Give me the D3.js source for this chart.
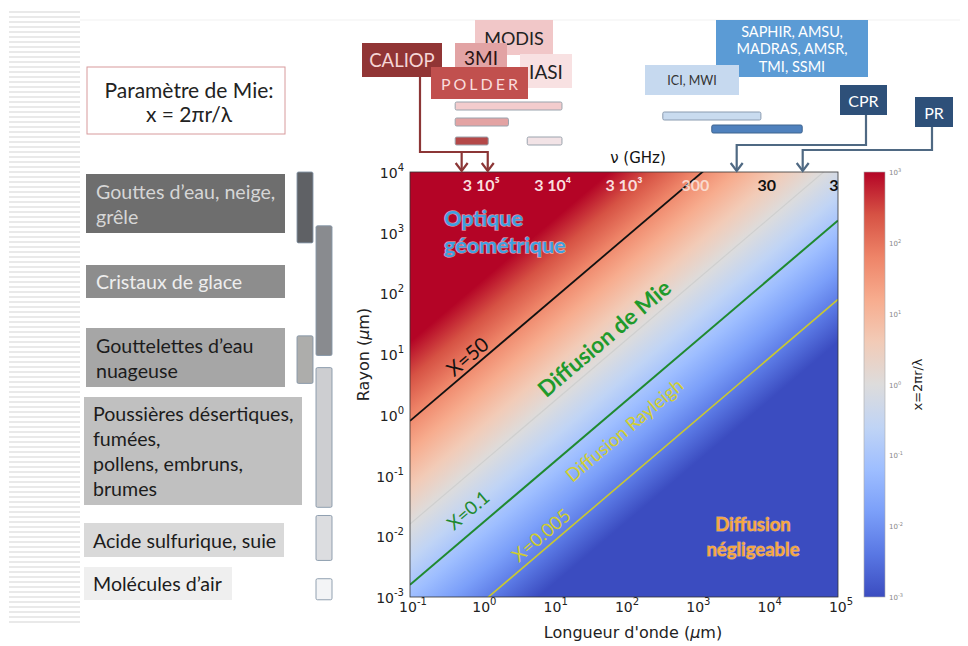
<!DOCTYPE html>
<html>
<head>
<meta charset="utf-8">
<script src="https://cdn.jsdelivr.net/npm/d3@7"></script>
<style>
  html, body { margin: 0; padding: 0; background: #fff; }
  svg { display: block; }
  .mpl { font-family: "DejaVu Sans", sans-serif; }
  .cal { font-family: Lato, "Open Sans", sans-serif; }
</style>
</head>
<body>
<script>
// ---- Axis ticks ----------------------------------------------------------
const wavelengthTicks = [1e-1, 1e0, 1e1, 1e2, 1e3, 1e4, 1e5];
const wavelengthExp = ["-1", "0", "1", "2", "3", "4", "5"];
const radiusTicks = [1e-3, 1e-2, 1e-1, 1e0, 1e1, 1e2, 1e3, 1e4];
const radiusExp = ["-3", "-2", "-1", "0", "1", "2", "3", "4"];
const colorbarTicks = [1e-3, 1e-2, 1e-1, 1e0, 1e1, 1e2, 1e3];
const colorbarExp = ["-3", "-2", "-1", "0", "1", "2", "3"];

// Frequency labels along the top (nu = c / lambda), placed at these wavelengths
const nuWavelengths = [1, 10, 100, 1000, 1e4, 1e5];
const nuLabels = ["3 10⁵", "3 10⁴", "3 10³", "300", "30", "3"];

// Iso-lines of the size parameter x = 2*pi*r/lambda
const mieValues = [50, 1, 0.1, 0.005];

// Particle families: radius ranges in micrometres
const particleNames = [
  ["Gouttes d’eau, neige,", "grêle"],
  ["Cristaux de glace"],
  ["Gouttelettes d’eau", "nuageuse"],
  ["Poussières désertiques,", "fumées,", "pollens, embruns,", "brumes"],
  ["Acide sulfurique, suie"],
  ["Molécules d’air"]
];
const particleRmin = [680, 9.5, 3.3, 0.03, 0.004, 0.0009];
const particleRmax = [1e4, 1300, 20, 6, 0.022, 0.002];

// Passive optical / infrared sensors: wavelength ranges (micrometres)
const opticalNames = ["MODIS", "3MI", "POLDER", "IASI"];
const opticalMin = [0.43, 0.43, 0.43, 4.4];
const opticalMax = [13.5, 2.4, 1.25, 13.5];

// Passive microwave sensors: wavelength ranges (micrometres)
const microwaveNames = ["ICI, MWI", "SAPHIR, AMSU, MADRAS, AMSR, TMI, SSMI"];
const microwaveMin = [350, 1700];
const microwaveMax = [8300, 31500];

// Active sensors: single wavelengths (micrometres)
const lidarWavelengths = [0.53, 1.23];   // CALIOP
const cprWavelength = 3800;
const prWavelength = 32000;

// ---- Colormap (coolwarm) -------------------------------------------------
const coolwarm = ["#3b4cc0", "#5977e3", "#7b9ff9", "#9ebeff", "#c0d4f5", "#dddcdc",
                  "#f2cbb7", "#f7ac8e", "#ee8468", "#d65244", "#b40426"];

// ---- Layout --------------------------------------------------------------
const W = 968, H = 646;
const P = { left: 410, right: 838, top: 172, bottom: 597 };

const svg = d3.select("body").append("svg").attr("width", W).attr("height", H);
const defs = svg.append("defs");

const x = d3.scaleLog().domain([1e-1, 1e5]).range([P.left, P.right]);
const y = d3.scaleLog().domain([1e-3, 1e4]).range([P.bottom, P.top]);
const cb = d3.scaleLog().domain([1e-3, 1e3]).range([P.bottom, P.top]);

// Striped margin on the far left
const stripes = svg.append("g");
d3.range(11, 626, 5).forEach(v => {
  stripes.append("rect").attr("x", 9).attr("y", v).attr("width", 71).attr("height", 2)
    .attr("fill", "#e9e9e9");
});
svg.append("line").attr("x1", 80).attr("x2", 960).attr("y1", 20).attr("y2", 20)
  .attr("stroke", "#f1f1f1").attr("stroke-width", 1);

// ---- Size-parameter field as a diagonal gradient --------------------------
// log10(x) = log10(2*pi) + log10(r) - log10(lambda) is linear in screen space.
const logU = (px, py) => Math.log10(2 * Math.PI) + Math.log10(y.invert(py)) - Math.log10(x.invert(px));
const cx = (P.left + P.right) / 2, cy = (P.top + P.bottom) / 2;
const du_dx = (logU(cx + 1, cy) - logU(cx, cy));
const du_dy = (logU(cx, cy + 1) - logU(cx, cy));
const g2 = du_dx * du_dx + du_dy * du_dy;
const u0 = logU(cx, cy);
const cbLo = Math.log10(cb.domain()[0]), cbHi = Math.log10(cb.domain()[1]);
const ptAt = u => [cx + (u - u0) * du_dx / g2, cy + (u - u0) * du_dy / g2];
const [gx1, gy1] = ptAt(cbLo), [gx2, gy2] = ptAt(cbHi);

const fieldGrad = defs.append("linearGradient").attr("id", "field")
  .attr("gradientUnits", "userSpaceOnUse")
  .attr("x1", gx1).attr("y1", gy1).attr("x2", gx2).attr("y2", gy2);
coolwarm.forEach((c, i) => fieldGrad.append("stop")
  .attr("offset", i / (coolwarm.length - 1)).attr("stop-color", c));

defs.append("clipPath").attr("id", "plotClip").append("rect")
  .attr("x", P.left).attr("y", P.top).attr("width", P.right - P.left).attr("height", P.bottom - P.top);

svg.append("rect").attr("x", P.left).attr("y", P.top)
  .attr("width", P.right - P.left).attr("height", P.bottom - P.top)
  .attr("fill", "url(#field)");

// Iso-lines
const mieStyle = {
  50: { c: "#111", w: 1.8 },
  1: { c: "#cfcfcf", w: 1.2 },
  0.1: { c: "#1f8a30", w: 2 },
  0.005: { c: "#c9c830", w: 1.6 }
};
const lineGen = d3.line().x(d => x(d[0])).y(d => y(d[1]));
const isoG = svg.append("g").attr("clip-path", "url(#plotClip)");
mieValues.forEach(X => {
  const pts = x.domain().map(l => [l, X * l / (2 * Math.PI)]);
  isoG.append("path").attr("d", lineGen(pts)).attr("fill", "none")
    .attr("stroke", mieStyle[X].c).attr("stroke-width", mieStyle[X].w);
});

svg.append("rect").attr("x", P.left).attr("y", P.top)
  .attr("width", P.right - P.left).attr("height", P.bottom - P.top)
  .attr("fill", "none").attr("stroke", "#333").attr("stroke-width", 0.8);

// ---- Axes tick labels ----------------------------------------------------
function pow10(sel, e, size, supSize, rise) {
  sel.append("tspan").attr("font-size", size).text("10");
  sel.append("tspan").attr("font-size", supSize).attr("dy", -rise).text(e);
}
const yLab = svg.append("g").attr("class", "mpl").attr("fill", "#222");
radiusTicks.forEach((t, i) => {
  const tx = yLab.append("text").attr("x", 404).attr("y", y(t) + 6).attr("text-anchor", "end");
  pow10(tx, radiusExp[i], 14, 10, 7);
});
const xLab = svg.append("g").attr("class", "mpl").attr("fill", "#222");
wavelengthTicks.forEach((t, i) => {
  const tx = xLab.append("text").attr("x", x(t) + 3).attr("y", 612).attr("text-anchor", "middle");
  pow10(tx, wavelengthExp[i], 14, 10, 7);
});
svg.append("text").attr("class", "mpl").attr("x", (P.left + P.right) / 2 + 9).attr("y", 638)
  .attr("text-anchor", "middle").attr("font-size", 16).attr("fill", "#222")
  .html("Longueur d'onde (<tspan font-style='italic'>μ</tspan>m)");
svg.append("text").attr("class", "mpl")
  .attr("transform", `translate(369,${(P.top + P.bottom) / 2 - 30}) rotate(-90)`)
  .attr("text-anchor", "middle").attr("font-size", 16).attr("fill", "#222")
  .html("Rayon (<tspan font-style='italic'>μ</tspan>m)");

// Frequency labels inside the top of the plot
svg.append("text").attr("class", "mpl").attr("x", 638).attr("y", 163)
  .attr("text-anchor", "middle").attr("font-size", 15).attr("fill", "#111").text("ν (GHz)");
const nuG = svg.append("g").attr("class", "cal").attr("font-weight", 700).attr("font-size", 16);
nuWavelengths.forEach((l, i) => {
  nuG.append("text").attr("x", Math.min(x(l), P.right - 4)).attr("y", 191)
    .attr("text-anchor", "middle")
    .attr("fill", i < 4 ? (i === 3 ? "#fbe6de" : "#f9dede") : "#111")
    .attr("fill-opacity", i === 3 ? 0.85 : 1)
    .text(nuLabels[i]);
});

// ---- Region annotations --------------------------------------------------
const ang = -Math.atan2(y(1) - y(10), x(10) - x(1)) * 180 / Math.PI;
function rotLabel(txt, px, py, color, size, weight) {
  return svg.append("text").attr("class", "cal")
    .attr("transform", `translate(${px},${py}) rotate(${ang})`)
    .attr("text-anchor", "middle").attr("dominant-baseline", "central")
    .attr("font-size", size).attr("font-weight", weight).attr("fill", color).text(txt);
}
const optique = svg.append("g").attr("class", "cal").attr("font-weight", 700).attr("font-size", 21.5)
  .attr("fill", "#3f9fe0").attr("stroke", "#ffffff").attr("stroke-width", 1.4)
  .attr("paint-order", "stroke").attr("stroke-opacity", 0.55);
optique.append("text").attr("x", 444).attr("y", 226).text("Optique");
optique.append("text").attr("x", 444).attr("y", 253).text("géométrique");

rotLabel("X=50", 467, 356, "#111", 20, 400);
rotLabel("Diffusion de Mie", 604, 338, "#1f9a2c", 22.5, 700);
rotLabel("X=0.1", 468, 510, "#1f8a30", 18.5, 400);
rotLabel("Diffusion Rayleigh", 624, 430, "#d2cf30", 18.5, 400);
rotLabel("X=0.005", 541, 535, "#cfcc30", 18.5, 400);

const negl = svg.append("g").attr("class", "cal").attr("font-weight", 700).attr("font-size", 18.5)
  .attr("fill", "#f6a640").attr("text-anchor", "middle")
  .attr("stroke", "#f7d9b0").attr("stroke-width", 1).attr("paint-order", "stroke").attr("stroke-opacity", 0.6);
negl.append("text").attr("x", 753).attr("y", 531).text("Diffusion");
negl.append("text").attr("x", 753).attr("y", 556).text("négligeable");

// ---- Colorbar ------------------------------------------------------------
const cbGrad = defs.append("linearGradient").attr("id", "cbGrad")
  .attr("x1", 0).attr("y1", 1).attr("x2", 0).attr("y2", 0);
coolwarm.forEach((c, i) => cbGrad.append("stop")
  .attr("offset", i / (coolwarm.length - 1)).attr("stop-color", c));
svg.append("rect").attr("x", 864).attr("y", P.top).attr("width", 21).attr("height", P.bottom - P.top)
  .attr("fill", "url(#cbGrad)").attr("stroke", "#aaa").attr("stroke-width", 0.6);
const cbLab = svg.append("g").attr("class", "mpl").attr("fill", "#888");
colorbarTicks.forEach((t, i) => {
  const tx = cbLab.append("text").attr("x", 889).attr("y", cb(t) + 3);
  pow10(tx, colorbarExp[i], 7, 5, 3);
});
svg.append("text").attr("class", "mpl")
  .attr("transform", `translate(922,${cb(1)}) rotate(-90)`)
  .attr("text-anchor", "middle").attr("font-size", 13).attr("fill", "#222").text("x=2πr/λ");

// ---- Mie parameter box -----------------------------------------------------
svg.append("rect").attr("x", 87).attr("y", 67).attr("width", 198).attr("height", 67)
  .attr("fill", "#fff").attr("stroke", "#d79a9c").attr("stroke-width", 1);
const mieBox = svg.append("g").attr("class", "cal").attr("font-size", 21).attr("fill", "#222")
  .attr("text-anchor", "middle");
mieBox.append("text").attr("x", 189).attr("y", 98).text("Paramètre de Mie:");
mieBox.append("text").attr("x", 189).attr("y", 122).text("x = 2πr/λ");

// ---- Particle families -----------------------------------------------------
const famBoxes = [
  { x0: 86, y0: 174, x1: 285, y1: 233, fill: "#6e6e6e", text: "#d6d6d6", bar: "#5f6165", col: 0 },
  { x0: 86, y0: 265, x1: 285, y1: 298, fill: "#8d8d8d", text: "#eeeeee", bar: "#898b8f", col: 1 },
  { x0: 86, y0: 328, x1: 285, y1: 387, fill: "#a6a6a6", text: "#1c1c1c", bar: "#adadab", col: 0 },
  { x0: 84, y0: 397, x1: 302, y1: 505, fill: "#c0c0c0", text: "#1c1c1c", bar: "#cdced1", col: 1 },
  { x0: 84, y0: 523, x1: 284, y1: 557, fill: "#d9d9d9", text: "#1c1c1c", bar: "#dcdde0", col: 1 },
  { x0: 84, y0: 567, x1: 232, y1: 600, fill: "#efefef", text: "#1c1c1c", bar: "#f3f4f6", col: 1 }
];
const famG = svg.append("g").attr("class", "cal").attr("font-size", 19.6);
particleNames.forEach((lines, i) => {
  const b = famBoxes[i];
  famG.append("rect").attr("x", b.x0).attr("y", b.y0).attr("width", b.x1 - b.x0).attr("height", b.y1 - b.y0)
    .attr("fill", b.fill);
  const n = lines.length, mid = (b.y0 + b.y1) / 2, lh = 25;
  lines.forEach((ln, j) => {
    famG.append("text").attr("x", b.x0 + (i >= 3 ? 9 : 10))
      .attr("y", mid + (j - (n - 1) / 2) * lh).attr("dominant-baseline", "central")
      .attr("fill", b.text).text(ln);
  });
  const bx = b.col === 0 ? 297 : 316;
  famG.append("rect").attr("x", bx).attr("y", y(particleRmax[i]))
    .attr("width", 16).attr("height", y(particleRmin[i]) - y(particleRmax[i]))
    .attr("rx", 1.5).attr("fill", b.bar).attr("stroke", "#8696a8").attr("stroke-width", 0.9);
});

// ---- Sensors ---------------------------------------------------------------
function arrowHead(g, px, py, color) {
  g.append("path").attr("d", `M${px - 6},${py - 8} L${px},${py} L${px + 6},${py - 8}`)
    .attr("fill", "none").attr("stroke", color).attr("stroke-width", 2.2);
}
// Wavelength range bars
const optRows = [{ y: 102, fill: "#f3cccd" }, { y: 118, fill: "#e3a3a3" }, { y: 137, fill: "#b44848" }, { y: 137, fill: "#f2e3e6" }];
opticalNames.forEach((nm, i) => {
  svg.append("rect").attr("x", x(opticalMin[i])).attr("y", optRows[i].y)
    .attr("width", x(opticalMax[i]) - x(opticalMin[i])).attr("height", 8).attr("rx", 1.5)
    .attr("fill", optRows[i].fill).attr("stroke", "#9aa3ad").attr("stroke-width", 1);
});
const mwRows = [{ y: 112, fill: "#c9dbef", stroke: "#8a9bb0" }, { y: 125, fill: "#4f81bd", stroke: "#3e648f" }];
microwaveNames.forEach((nm, i) => {
  svg.append("rect").attr("x", x(microwaveMin[i])).attr("y", mwRows[i].y)
    .attr("width", x(microwaveMax[i]) - x(microwaveMin[i])).attr("height", 8).attr("rx", 1.5)
    .attr("fill", mwRows[i].fill).attr("stroke", mwRows[i].stroke).attr("stroke-width", 1);
});

// CALIOP pointer
const lidarColor = "#8c3636";
const arrG = svg.append("g");
arrG.append("path")
  .attr("d", `M420,77 V152 H${x(lidarWavelengths[1])} V171 M${x(lidarWavelengths[0])},152 V171`)
  .attr("fill", "none").attr("stroke", lidarColor).attr("stroke-width", 2.2);
lidarWavelengths.forEach(l => arrowHead(arrG, x(l), 171, lidarColor));

// Radar pointers
const radarColor = "#4f6983";
arrG.append("path").attr("d", `M866,115 V145 H${x(cprWavelength)} V171`)
  .attr("fill", "none").attr("stroke", radarColor).attr("stroke-width", 2.2);
arrowHead(arrG, x(cprWavelength), 171, radarColor);
arrG.append("path").attr("d", `M932,127 V150 H${x(prWavelength)} V171`)
  .attr("fill", "none").attr("stroke", radarColor).attr("stroke-width", 2.2);
arrowHead(arrG, x(prWavelength), 171, radarColor);

// Sensor name boxes
const sensorBoxes = [
  { t: ["MODIS"], x0: 475, y0: 20, x1: 553, y1: 55, fill: "#f1c7c8", c: "#222", fs: 18 },
  { t: ["3MI"], x0: 455, y0: 43, x1: 507, y1: 76, fill: "#e2a3a4", c: "#2a1414", fs: 19 },
  { t: ["CALIOP"], x0: 362, y0: 43, x1: 442, y1: 77, fill: "#913535", c: "#f6d6d6", fs: 18.5 },
  { t: ["IASI"], x0: 520, y0: 54, x1: 572, y1: 88, fill: "#f8e1e2", c: "#222", fs: 19 },
  { t: ["POLDER"], x0: 431, y0: 67, x1: 528, y1: 99, fill: "#c1504e", c: "#f9dcdc", fs: 16, ls: 3 },
  { t: ["SAPHIR, AMSU,", "MADRAS, AMSR,", "TMI, SSMI"], x0: 716, y0: 20, x1: 868, y1: 77, fill: "#5b9bd5", c: "#ffffff", fs: 14.5, lh: 17.5 },
  { t: ["ICI, MWI"], x0: 645, y0: 65, x1: 739, y1: 95, fill: "#c6d9ef", c: "#333", fs: 12.5 },
  { t: ["CPR"], x0: 840, y0: 85, x1: 887, y1: 115, fill: "#2e5079", c: "#fff", fs: 16 },
  { t: ["PR"], x0: 915, y0: 97, x1: 953, y1: 127, fill: "#2e5079", c: "#fff", fs: 16 }
];
const sG = svg.append("g").attr("class", "cal");
sensorBoxes.forEach(b => {
  sG.append("rect").attr("x", b.x0).attr("y", b.y0).attr("width", b.x1 - b.x0).attr("height", b.y1 - b.y0)
    .attr("fill", b.fill);
  const n = b.t.length, lh = b.lh || 18, mid = (b.y0 + b.y1) / 2;
  b.t.forEach((ln, j) => {
    sG.append("text").attr("x", (b.x0 + b.x1) / 2 + (b.ls ? b.ls / 2 : 0))
      .attr("y", mid + (j - (n - 1) / 2) * lh - (b.t[0] === "3MI" ? 2 : 0))
      .attr("text-anchor", "middle").attr("dominant-baseline", "central")
      .attr("font-size", b.fs).attr("fill", b.c)
      .attr("letter-spacing", b.ls || 0).text(ln);
  });
});
</script>
</body>
</html>
